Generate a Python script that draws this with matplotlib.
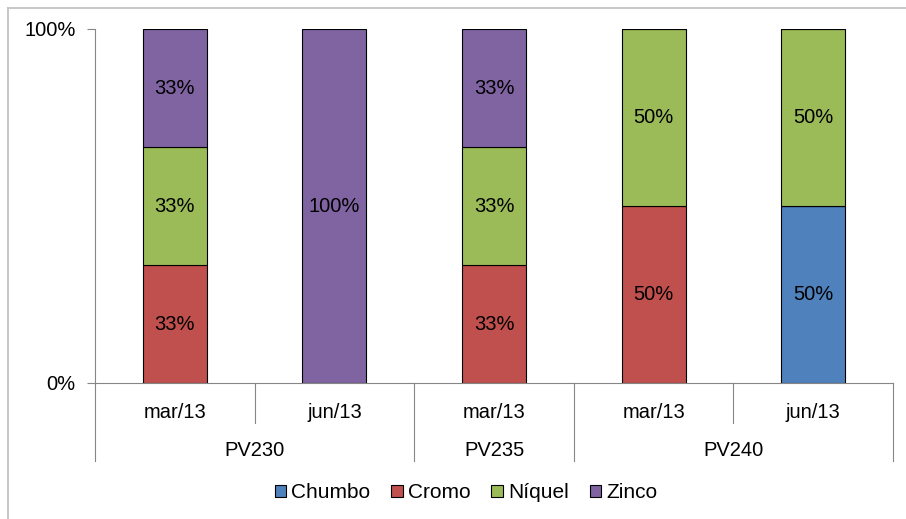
import numpy as np
import matplotlib
matplotlib.use("Agg")
import matplotlib.pyplot as plt
from matplotlib.lines import Line2D

plt.rcParams['font.family'] = ['Liberation Sans', 'DejaVu Sans']

# dados (contagem de parâmetros acima do limite por campanha)
campanhas = ['mar/13', 'jun/13', 'mar/13', 'mar/13', 'jun/13']
pontos = ['PV230', 'PV235', 'PV240']
n_por_ponto = [2, 1, 2]
metais = ['Chumbo', 'Cromo', 'Níquel', 'Zinco']
chumbo = [0, 0, 0, 0, 1]
cromo = [1, 0, 1, 1, 0]
niquel = [1, 0, 1, 1, 1]
zinco = [1, 1, 1, 0, 0]
cores = ['#4F81BD', '#C0504D', '#9BBB59', '#8064A2']

series = np.array([chumbo, cromo, niquel, zinco], dtype=float)
frac = series / series.sum(axis=0)

W, H = 906, 519
FS = 14.5
fig = plt.figure(figsize=(W / 100, H / 100), dpi=100)

# moldura do gráfico (cortada à direita e embaixo)
fig.add_artist(Line2D([8 / W, 1], [1 - 8 / H, 1 - 8 / H], color='#BFBFBF', lw=1.2))
fig.add_artist(Line2D([8 / W, 8 / W], [0, 1 - 8 / H], color='#BFBFBF', lw=1.2))

# título (cortado no topo da imagem)
fig.text(0.535, 1 + 3.5 / H, 'Porcentagem de metais pesados em pontos de amostragem',
         ha='center', va='baseline', fontsize=15, fontweight='bold')

ax = fig.add_axes([95 / W, 1 - 383 / H, (893 - 95) / W, (383 - 29) / H])
x = np.arange(len(campanhas))
base = np.zeros(len(campanhas))
for nome, f, c in zip(metais, frac, cores):
    ax.bar(x, f, width=0.4, bottom=base, color=c, edgecolor='black', linewidth=0.8, label=nome)
    for xi, b, v in zip(x, base, f):
        if v > 0:
            ax.text(xi, b + v / 2, f'{v:.0%}', ha='center', va='center', fontsize=FS)
    base += f

ax.set_xlim(-0.5, len(campanhas) - 0.5)
ax.set_ylim(0, 1)
ax.set_yticks([0, 1])
ax.set_yticklabels(['0%', '100%'], fontsize=FS)
ax.set_xticks([])
ax.tick_params(axis='y', direction='out', length=6, color='#868686', pad=8)
for s in ['top', 'right']:
    ax.spines[s].set_visible(False)
for s in ['left', 'bottom']:
    ax.spines[s].set_color('#868686')

# eixo de categorias em dois níveis
trans = ax.get_xaxis_transform()
h = 383 - 29
y1 = -(423 - 383) / h
y2 = -(461 - 383) / h
ax.add_line(Line2D([-0.5, -0.5], [0, y2], transform=trans, color='#868686', lw=0.8, clip_on=False))
pos = -0.5
for p, n in zip(pontos, n_por_ponto):
    for k in range(1, n):
        ax.add_line(Line2D([pos + k, pos + k], [0, y1], transform=trans, color='#868686', lw=0.8, clip_on=False))
    ax.add_line(Line2D([pos + n, pos + n], [0, y2], transform=trans, color='#868686', lw=0.8, clip_on=False))
    ax.text(pos + n / 2, -(451 - 383) / h, p, transform=trans, ha='center', va='center', fontsize=FS)
    pos += n
for xi, c in zip(x, campanhas):
    ax.text(xi, -(413 - 383) / h, c, transform=trans, ha='center', va='center', fontsize=FS)

fig.legend(loc='center', bbox_to_anchor=(466 / W, 1 - 493 / H), ncol=4, frameon=False,
           fontsize=15, handlelength=0.55, handleheight=0.55, handletextpad=0.25, columnspacing=1.0)

fig.savefig('out.png', dpi=100)
